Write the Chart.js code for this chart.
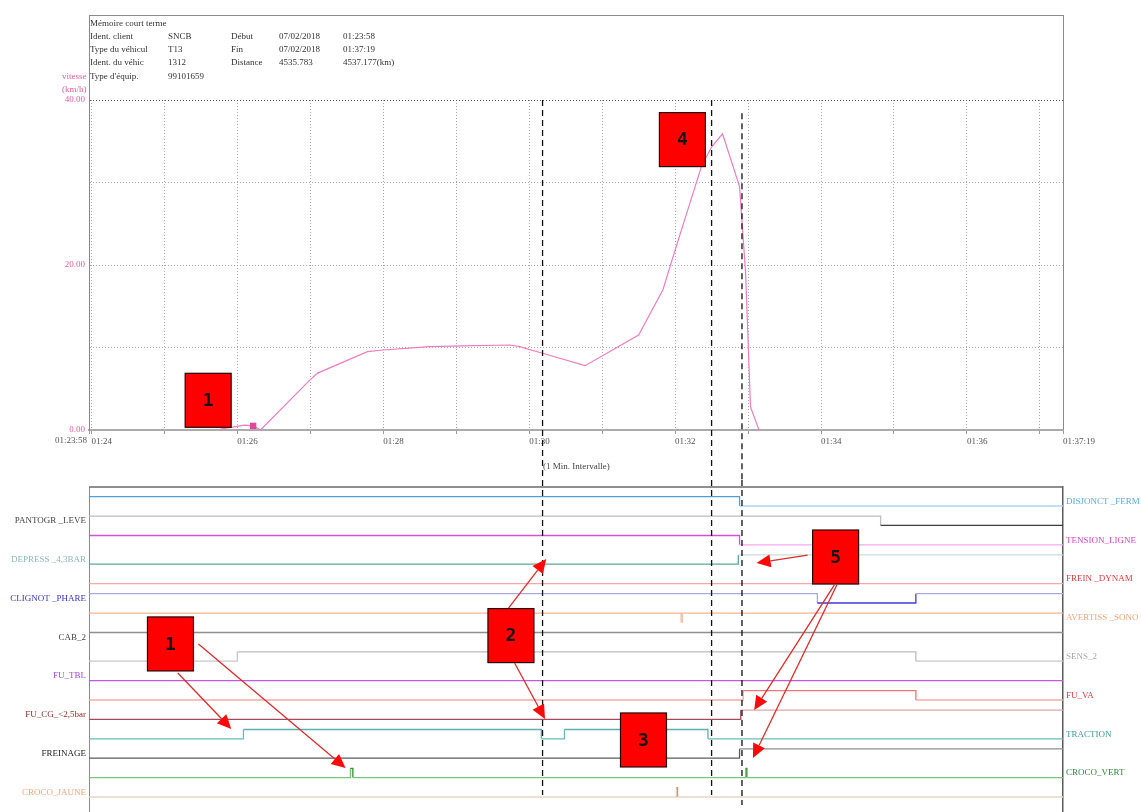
<!DOCTYPE html>
<html>
<head>
<meta charset="utf-8">
<title>Mémoire court terme</title>
<script src="https://cdn.jsdelivr.net/npm/chart.js@4.4.1/dist/chart.umd.min.js"></script>
<style>
  html, body { margin: 0; padding: 0; background: #fff; width: 1141px; height: 812px; overflow: hidden; }
  #wrap { position: relative; width: 1141px; height: 812px; font-family: "Liberation Serif", "DejaVu Serif", serif; }
  #speedCanvas { position: absolute; left: 0; top: 0; }
  #signalCanvas { position: absolute; left: 0; top: 480px; }
  .hdr { position: absolute; left: 89px; top: 15px; width: 975px; height: 86px; border: 1px solid #8a8a8a; border-bottom: none; box-sizing: border-box; }
  .t { position: absolute; font-size: 9px; line-height: 11px; color: #333; white-space: nowrap; }
  .pink { color: #e8609c; }
</style>
</head>
<body>
<div id="wrap">
  <canvas id="speedCanvas" width="1141" height="480"></canvas>
  <canvas id="signalCanvas" width="1141" height="332"></canvas>

  <div class="hdr"></div>
  <div class="t" style="left:90px;top:18px">Mémoire court terme</div>
  <div class="t" style="left:90px;top:31px">Ident. client</div>
  <div class="t" style="left:168px;top:31px">SNCB</div>
  <div class="t" style="left:231px;top:31px">Début</div>
  <div class="t" style="left:279px;top:31px">07/02/2018</div>
  <div class="t" style="left:343px;top:31px">01:23:58</div>
  <div class="t" style="left:90px;top:44px">Type du véhicul</div>
  <div class="t" style="left:168px;top:44px">T13</div>
  <div class="t" style="left:231px;top:44px">Fin</div>
  <div class="t" style="left:279px;top:44px">07/02/2018</div>
  <div class="t" style="left:343px;top:44px">01:37:19</div>
  <div class="t" style="left:90px;top:57px">Ident. du véhic</div>
  <div class="t" style="left:168px;top:57px">1312</div>
  <div class="t" style="left:231px;top:57px">Distance</div>
  <div class="t" style="left:279px;top:57px">4535.783</div>
  <div class="t" style="left:343px;top:57px">4537.177(km)</div>
  <div class="t" style="left:90px;top:71px">Type d'équip.</div>
  <div class="t" style="left:168px;top:71px">99101659</div>
  <div class="t pink" style="left:62px;top:71px">vitesse</div>
  <div class="t pink" style="left:62px;top:84px">(km/h)</div>
  <div class="t" style="left:543px;top:461px;color:#444">(1 Min. Intervalle)</div>
</div>

<script>
// ---- time window ----
const recordStart = '01:23:58';
const recordEnd = '01:37:19';

// ---- speed trace (km/h) ----
const speedTimes = ['01:25:46', '01:26:06', '01:26:13', '01:26:19', '01:27:00', '01:27:06', '01:27:47',
  '01:28:00', '01:28:38', '01:29:06', '01:29:44', '01:29:52', '01:30:11', '01:30:46', '01:31:30',
  '01:31:50', '01:32:00', '01:32:22', '01:32:30', '01:32:39', '01:32:53', '01:32:58', '01:33:02', '01:33:09'];
const speedKmh = [0.1, 0.6, 0.5, 0, 6.1, 6.9, 9.5, 9.7, 10.1, 10.2, 10.3, 10.1, 9.3, 7.8, 11.5,
  17.0, 21.8, 32.1, 34.3, 35.9, 29.5, 19.0, 2.8, 0];
const speedMarked = ['01:26:13'];
const speedTickValues = [0, 10, 20, 30, 40];

// ---- event cursors ----
const cursorTimes = ['01:30:11', '01:32:30', '01:32:55'];
const cursorTopKmh = [40, 40, 38.4];
const cursorBottomLevel = [0.1, 0.1, -0.41];

// ---- binary signals (top to bottom) ----
const signalNames = ['DISJONCT _FERM', 'PANTOGR _LEVE', 'TENSION_LIGNE', 'DEPRESS _4,3BAR', 'FREIN _DYNAM',
  'CLIGNOT _PHARE', 'AVERTISS _SONO', 'CAB_2', 'SENS_2', 'FU_TBL', 'FU_VA', 'FU_CG_<2,5bar',
  'TRACTION', 'FREINAGE', 'CROCO_VERT', 'CROCO_JAUNE'];
const signalSide = ['right', 'left', 'right', 'left', 'right', 'left', 'right', 'left',
  'right', 'left', 'right', 'left', 'right', 'left', 'right', 'left'];
const signalInitial = [1, 1, 1, 0, 0, 1, 1, 1, 0, 0, 0, 0, 0, 0, 0, 0];
const signalEdges = [
  ['01:32:53'],
  ['01:34:49'],
  ['01:32:53'],
  ['01:32:52'],
  [],
  ['01:33:57', '01:35:18'],
  ['01:32:05', '01:32:06'],
  [],
  ['01:26:00', '01:35:18'],
  [],
  ['01:32:56', '01:35:18'],
  ['01:32:54'],
  ['01:26:05', '01:30:10', '01:30:29', '01:32:27'],
  ['01:32:53'],
  ['01:27:33', '01:27:35', '01:32:58', '01:32:59'],
  ['01:32:01', '01:32:02']
];
const signalLowColor = ['#a9d9f2', '#3c3c3c', '#f3a9ef', '#5aa99b', '#f2a9a9', '#3b3bde', '#f3c4ae', '#8f8f8f',
  '#c8c8c8', '#c25ae0', '#f7aaaa', '#a34b5c', '#68bcbc', '#5c5c5c', '#78c878', '#ead3c5'];
const signalHighColor = ['#4f9fe0', '#bdbdbd', '#d84fd6', '#c9dede', '#f2a9a9', '#aaaae2', '#f7b594', '#8f8f8f',
  '#bcbcbc', '#c25ae0', '#ef7777', '#e4a3a3', '#5cb0b0', '#8e8e8e', '#2f8f2f', '#f08a40'];
const signalLabelColor = ['#5aa8de', '#444444', '#de3fc8', '#8ab9b4', '#e03a3a', '#3434c4', '#f0a478', '#444444',
  '#a8a8a8', '#a444e0', '#e03a3a', '#8e2e2e', '#3c9a9a', '#222222', '#2e8a3c', '#f2a476'];

// ---- callouts ----
const speedCallouts = [
  { at: '01:25:36', kmh: 3.6, text: '1' },
  { at: '01:32:06', kmh: 35.2, text: '4' }
];
const signalCallouts = [
  { at: '01:25:05', level: 7.89, text: '1' },
  { at: '01:29:45', level: 8.32, text: '2' },
  { at: '01:31:34', level: 2.94, text: '3' },
  { at: '01:34:12', level: 12.37, text: '5' }
];
const signalArrowFrom = [['01:25:11', 6.39], ['01:25:28', 7.89], ['01:29:43', 9.74], ['01:29:48', 6.91],
  ['01:33:49', 12.47], ['01:34:11', 10.93], ['01:34:13', 10.93]];
const signalArrowTo = [['01:25:55', 3.51], ['01:27:29', 1.49], ['01:30:14', 12.27], ['01:30:13', 4.02],
  ['01:33:07', 12.06], ['01:33:05', 4.48], ['01:33:04', 2.01]];

// ---- helpers ----
function sec(c) { const p = c.split(':').map(Number); return p[0] * 3600 + p[1] * 60 + (p[2] || 0); }
function pad(n) { return String(n).padStart(2, '0'); }
function clock(s, withSec) {
  const h = Math.floor(s / 3600), m = Math.floor((s % 3600) / 60), ss = s % 60;
  return pad(h) + ':' + pad(m) + (withSec ? ':' + pad(ss) : '');
}
const T0 = sec(recordStart), T1 = sec(recordEnd);
const ROW_COUNT = signalNames.length;
const HIGH_OFFSET = 0.48;
const LABEL_OFFSET = 0.23;
const rowBase = i => (ROW_COUNT - 1) - i;
const LEVEL_MIN = -0.773, LEVEL_MAX = 15.979;

Chart.defaults.font.family = '"Liberation Serif", "DejaVu Serif", serif';
Chart.defaults.font.size = 9;

function drawCallout(ctx, cx, cy, text) {
  const w = 46, h = 54;
  ctx.save();
  ctx.setLineDash([]);
  ctx.fillStyle = '#ff0000';
  ctx.fillRect(cx - w / 2, cy - h / 2, w, h);
  ctx.strokeStyle = '#2a0505';
  ctx.lineWidth = 1.2;
  ctx.strokeRect(cx - w / 2, cy - h / 2, w, h);
  ctx.fillStyle = '#151515';
  ctx.font = 'bold 18px "DejaVu Sans Mono", monospace';
  ctx.textAlign = 'center';
  ctx.textBaseline = 'middle';
  ctx.fillText(text, cx, cy + 1);
  ctx.restore();
}
function drawArrow(ctx, x1, y1, x2, y2) {
  const a = Math.atan2(y2 - y1, x2 - x1), L = 14, W = 6.5;
  const bx = x2 - L * Math.cos(a), by = y2 - L * Math.sin(a);
  ctx.save();
  ctx.setLineDash([]);
  ctx.strokeStyle = '#e22a2a';
  ctx.lineWidth = 1.3;
  ctx.beginPath(); ctx.moveTo(x1, y1); ctx.lineTo(bx, by); ctx.stroke();
  ctx.fillStyle = '#ff0808';
  ctx.beginPath();
  ctx.moveTo(x2, y2);
  ctx.lineTo(bx + W * Math.sin(a), by - W * Math.cos(a));
  ctx.lineTo(bx - W * Math.sin(a), by + W * Math.cos(a));
  ctx.closePath(); ctx.fill();
  ctx.restore();
}
function drawCursor(ctx, x, yTop, yBottom) {
  ctx.save();
  ctx.strokeStyle = '#111';
  ctx.lineWidth = 1.3;
  ctx.setLineDash([6, 4]);
  ctx.beginPath(); ctx.moveTo(x, yTop); ctx.lineTo(x, yBottom); ctx.stroke();
  ctx.restore();
}

// ---- speed chart ----
const speedOverlay = {
  id: 'speedOverlay',
  afterDatasetsDraw(chart) {
    const { ctx, chartArea, scales: { x, y } } = chart;
    ctx.save();
    ctx.strokeStyle = '#8a8a8a';
    ctx.lineWidth = 1;
    ctx.beginPath();
    ctx.moveTo(chartArea.right + 0.5, chartArea.top);
    ctx.lineTo(chartArea.right + 0.5, chartArea.bottom);
    ctx.stroke();
    ctx.restore();
    cursorTimes.forEach((t, i) => {
      drawCursor(ctx, x.getPixelForValue(sec(t)), y.getPixelForValue(cursorTopKmh[i]), chart.height);
    });
  },
  afterDraw(chart) {
    const { ctx, chartArea, scales: { x, y } } = chart;
    ctx.save();
    ctx.fillStyle = '#555';
    ctx.font = '9px "Liberation Serif", serif';
    ctx.textAlign = 'right';
    ctx.textBaseline = 'top';
    ctx.fillText(recordStart, x.getPixelForValue(T0) - 2, chartArea.bottom + 6);
    ctx.restore();
    speedCallouts.forEach(c => drawCallout(ctx, x.getPixelForValue(sec(c.at)), y.getPixelForValue(c.kmh), c.text));
  }
};

new Chart(document.getElementById('speedCanvas'), {
  type: 'line',
  data: {
    datasets: [{
      data: speedTimes.map((t, i) => ({ x: sec(t), y: speedKmh[i] })),
      borderColor: '#f07cc0',
      borderWidth: 1.2,
      tension: 0,
      pointStyle: 'rect',
      pointRadius: ctx => speedMarked.includes(speedTimes[ctx.dataIndex]) ? 4.5 : 0,
      pointBackgroundColor: '#e2489e',
      pointBorderWidth: 0
    }]
  },
  options: {
    responsive: false,
    animation: false,
    layout: { padding: { top: 100, right: 78, left: 0, bottom: 0 } },
    plugins: { legend: { display: false }, tooltip: { enabled: false } },
    scales: {
      x: {
        type: 'linear', min: T0, max: T1,
        afterBuildTicks: s => {
          const ticks = [{ value: T0 }];
          for (let m = Math.ceil(T0 / 60) * 60; m < T1; m += 60) ticks.push({ value: m });
          ticks.push({ value: T1 });
          s.ticks = ticks;
        },
        afterFit: s => { s.height = 50; },
        ticks: {
          autoSkip: false, maxRotation: 0, align: 'start', padding: 2, color: '#555',
          callback: v => {
            if (v === T0) return '';
            if (v === T1) return clock(v, true);
            return (Math.round(v / 60) % 2 === 0) ? clock(v, false) : '';
          }
        },
        grid: { color: '#a8a8a8', tickLength: 4, tickColor: '#9a9a9a', lineWidth: 1 },
        border: { color: '#ababab', width: 2, dash: [1, 2] }
      },
      y: {
        min: 0, max: 40,
        afterBuildTicks: s => { s.ticks = speedTickValues.map(v => ({ value: v })); },
        afterFit: s => { s.width = 89; },
        ticks: {
          autoSkip: false, padding: 4, color: '#e8609c',
          callback: v => (v % 20 === 0 ? v.toFixed(2) : '')
        },
        grid: {
          drawTicks: false,
          color: ctx => (ctx.tick && ctx.tick.value === 40 ? '#555' : '#a8a8a8')
        },
        border: { color: '#8a8a8a', width: 1, dash: [1, 2] }
      }
    }
  },
  plugins: [speedOverlay]
});

// ---- signal chart ----
const signalDatasets = signalNames.map((name, i) => {
  let state = signalInitial[i];
  const pts = [{ x: T0, y: rowBase(i) + state * HIGH_OFFSET, s: state }];
  signalEdges[i].forEach(t => {
    state = 1 - state;
    pts.push({ x: sec(t), y: rowBase(i) + state * HIGH_OFFSET, s: state });
  });
  pts.push({ x: T1, y: rowBase(i) + state * HIGH_OFFSET, s: state });
  return {
    label: name,
    data: pts,
    stepped: 'before',
    borderWidth: 1.3,
    pointRadius: 0,
    borderColor: signalLowColor[i],
    yAxisID: 'yL',
    segment: {
      borderColor: ctx => {
        const p = pts[ctx.p0DataIndex];
        return p.s ? signalHighColor[i] : signalLowColor[i];
      }
    }
  };
});

function sideTicks(side) {
  return s => {
    s.ticks = signalNames
      .map((n, i) => ({ i, n }))
      .filter(o => signalSide[o.i] === side)
      .map(o => ({ value: rowBase(o.i) + LABEL_OFFSET, name: o.n, color: signalLabelColor[o.i] }));
  };
}
// the label columns keep the full plot height: no extra room for label overhang
function fixedWidth(w) {
  return s => { s.width = w; s.paddingTop = 0; s.paddingBottom = 0; };
}

const signalOverlay = {
  id: 'signalOverlay',
  afterDatasetsDraw(chart) {
    const { ctx, chartArea, scales: { x, yL } } = chart;
    ctx.save();
    ctx.strokeStyle = '#6a6a6a';
    ctx.lineWidth = 1.5;
    ctx.beginPath();
    ctx.moveTo(chartArea.left, chartArea.top);
    ctx.lineTo(chartArea.right, chartArea.top);
    ctx.stroke();
    ctx.restore();
    cursorTimes.forEach((t, i) => {
      drawCursor(ctx, x.getPixelForValue(sec(t)), 0, yL.getPixelForValue(cursorBottomLevel[i]));
    });
  },
  afterDraw(chart) {
    const { ctx, scales: { x, yL } } = chart;
    signalCallouts.forEach(c => drawCallout(ctx, x.getPixelForValue(sec(c.at)), yL.getPixelForValue(c.level), c.text));
    signalArrowFrom.forEach((f, k) => {
      const to = signalArrowTo[k];
      drawArrow(ctx, x.getPixelForValue(sec(f[0])), yL.getPixelForValue(f[1]),
        x.getPixelForValue(sec(to[0])), yL.getPixelForValue(to[1]));
    });
  }
};

const signalTickOptions = {
  autoSkip: false, padding: 3,
  callback: (v, idx, ticks) => ticks[idx].name,
  color: ctx => (ctx.tick && ctx.tick.color) || '#444'
};

new Chart(document.getElementById('signalCanvas'), {
  type: 'line',
  data: { datasets: signalDatasets },
  options: {
    responsive: false,
    animation: false,
    layout: { padding: { top: 7, right: 0, left: 0, bottom: 0 } },
    plugins: { legend: { display: false }, tooltip: { enabled: false } },
    scales: {
      x: { type: 'linear', min: T0, max: T1, display: false },
      yL: {
        position: 'left', min: LEVEL_MIN, max: LEVEL_MAX,
        afterBuildTicks: sideTicks('left'),
        afterFit: fixedWidth(89),
        ticks: signalTickOptions,
        grid: { display: false, drawTicks: false },
        border: { color: '#8a8a8a', width: 1 }
      },
      yR: {
        position: 'right', min: LEVEL_MIN, max: LEVEL_MAX,
        afterBuildTicks: sideTicks('right'),
        afterFit: fixedWidth(78),
        ticks: signalTickOptions,
        grid: { display: false, drawTicks: false },
        border: { color: '#5a5a5a', width: 1.5 }
      }
    }
  },
  plugins: [signalOverlay]
});
</script>
</body>
</html>
